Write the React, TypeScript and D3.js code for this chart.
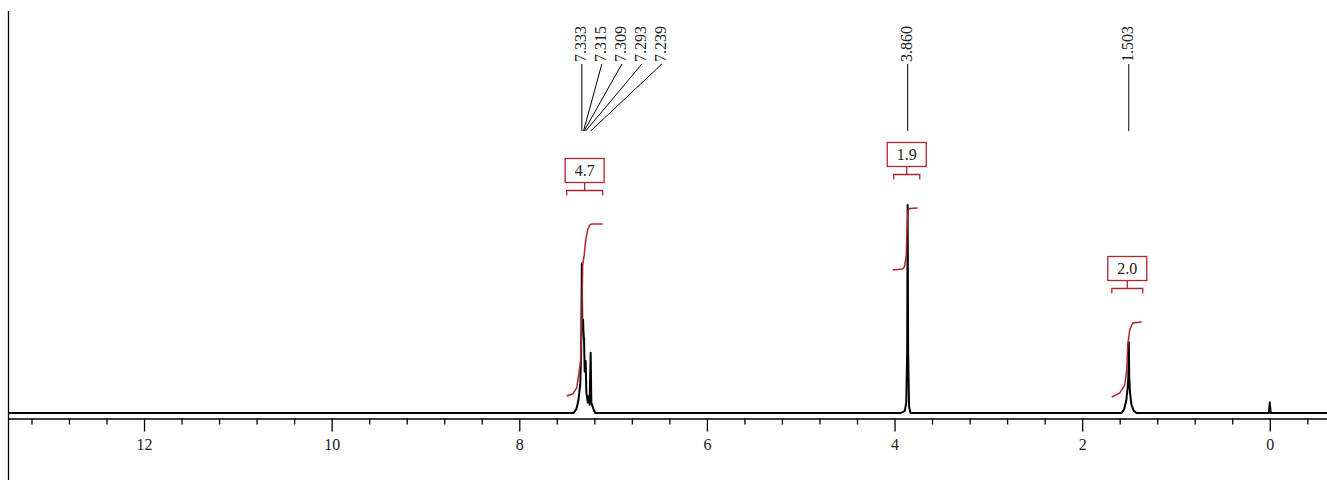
import React, { useEffect, useRef } from 'react';
import * as d3 from 'd3';

const width = 1327, height = 480;

// spectrum trace (ppm, intensity; 3.860 singlet = 100)
const specPpm = [13.45, 7.42, 7.39, 7.37, 7.35, 7.34, 7.333, 7.328, 7.32, 7.315, 7.309, 7.303, 7.293, 7.285, 7.27, 7.26, 7.25, 7.239, 7.232, 7.21, 7.19,
  3.93, 3.89, 3.875, 3.865, 3.86, 3.855, 3.845, 3.83,
  1.58, 1.55, 1.53, 1.515, 1.508, 1.503, 1.498, 1.49, 1.475, 1.45, 1.42,
  0.01, 0.0, -0.01, -0.61];
const specInt = [0, 0, 2, 6, 14, 30, 72, 40, 45, 38, 35, 20, 25, 10, 5, 8, 4, 29, 5, 2, 0,
  0, 1, 5, 30, 100, 30, 3, 0,
  0, 2, 6, 12, 17, 34, 17, 10, 4, 1, 0,
  0, 5, 0, 0];

// peak picking labels
const peakLabels = ['7.333', '7.315', '7.309', '7.293', '7.239', '3.860', '1.503'];
const peakPpm = [7.333, 7.315, 7.309, 7.293, 7.239, 3.860, 1.503];

// integrals
const integralLabels = ['4.7', '1.9', '2.0'];
const integralFrom = [7.495, 4.009, 1.684];
const integralTo = [7.111, 3.731, 1.354];
const int1Ppm = [7.495, 7.431, 7.388, 7.367, 7.345, 7.335, 7.324, 7.308, 7.292, 7.271, 7.249, 7.228, 7.111];
const int1Val = [8.2, 9.1, 12, 18.3, 25.5, 40, 71, 76, 83, 88, 90.4, 90.9, 90.9];
const int2Ppm = [4.019, 3.913, 3.891, 3.875, 3.865, 3.854, 3.838, 3.753];
const int2Val = [68.75, 69.2, 70.7, 76, 90.4, 97.6, 98.3, 98.6];
const int3Ppm = [1.684, 1.599, 1.546, 1.525, 1.514, 1.493, 1.461, 1.365];
const int3Val = [7.7, 9.6, 13.5, 20.7, 32.7, 39.9, 43.3, 43.75];

const majorTicks = [12, 10, 8, 6, 4, 2, 0];

const NmrSpectrum = () => {
  const svgRef = useRef<SVGSVGElement>(null);

  useEffect(() => {
    const svg = d3.select(svgRef.current);
    svg.selectAll('*').remove();

    const x = d3.scaleLinear().domain([13.45, -0.61]).range([8, 1327]);
    const y = d3.scaleLinear().domain([0, 100]).range([413, 205]);
    const red = '#b0262e';
    const font = '"Liberation Serif", "Times New Roman", serif';

    // left frame line
    svg.append('line').attr('x1', 8.5).attr('x2', 8.5).attr('y1', 11).attr('y2', height)
      .attr('stroke', '#000').attr('stroke-width', 1.3);

    // axis
    const minor = d3.range(-0.4, 13.3, 0.4).filter((v) => Math.abs(v / 2 - Math.round(v / 2)) > 0.01);
    const axisG = svg.append('g').attr('transform', 'translate(0,418.5)');
    axisG.call(d3.axisBottom(x).tickValues(minor).tickSize(6).tickSizeOuter(0).tickFormat(() => ''));
    const majG = svg.append('g').attr('transform', 'translate(0,418.5)');
    majG.call(d3.axisBottom(x).tickValues(majorTicks).tickSize(13).tickSizeOuter(0).tickFormat(d3.format('d')));
    svg.selectAll('.domain').attr('stroke', '#000').attr('stroke-width', 1.2);
    svg.selectAll('.tick line').attr('stroke', '#000').attr('stroke-width', 1.3);
    majG.selectAll('.tick text').attr('font-family', font).attr('font-size', 16)
      .attr('fill', '#222').attr('y', 20).attr('dy', '0.71em');

    // spectrum
    const pts: [number, number][] = specPpm.map((p, i) => [p, specInt[i]]);
    const line = d3.line<[number, number]>().x((d) => x(d[0])).y((d) => y(d[1]));
    svg.append('path').attr('d', line(pts)).attr('fill', 'none')
      .attr('stroke', '#000').attr('stroke-width', 2).attr('stroke-linejoin', 'round');

    // integral curves
    const curves = [
      int1Ppm.map((p, i) => [p, int1Val[i]] as [number, number]),
      int2Ppm.map((p, i) => [p, int2Val[i]] as [number, number]),
      int3Ppm.map((p, i) => [p, int3Val[i]] as [number, number]),
    ];
    curves.forEach((c, i) => {
      svg.append('path').attr('d', line(c)).attr('fill', 'none')
        .attr('stroke', red).attr('stroke-width', 1.5);

      const top = y(d3.max(c, (d) => d[1]) as number);
      const by = Math.round(top - 34) + 0.5;
      const x0 = x(integralFrom[i]), x1 = x(integralTo[i]);
      const cx = (x0 + x1) / 2;
      const g = svg.append('g');
      g.append('path')
        .attr('d', `M${x0},${by + 5}V${by}H${x1}V${by + 5}M${cx},${by}V${by - 8}`)
        .attr('fill', 'none').attr('stroke', red).attr('stroke-width', 1.3);
      g.append('rect').attr('x', cx - 19.5).attr('y', by - 32).attr('width', 39).attr('height', 24)
        .attr('fill', '#fff').attr('stroke', red).attr('stroke-width', 1.3);
      g.append('text').attr('x', cx).attr('y', by - 14.5).attr('text-anchor', 'middle')
        .attr('font-family', font).attr('font-size', 16).attr('fill', '#222')
        .text(integralLabels[i]);
    });

    // peak labels
    let prev = -Infinity;
    peakPpm.forEach((p, i) => {
      const px = x(p);
      const lx = Math.max(px, prev + 20);
      prev = lx;
      svg.append('path').attr('d', `M${lx},64L${px},131`).attr('fill', 'none')
        .attr('stroke', '#000').attr('stroke-width', 1);
      svg.append('text')
        .attr('transform', `translate(${lx},62) rotate(-90)`)
        .attr('text-anchor', 'start').attr('dy', '0.28em')
        .attr('font-family', font).attr('font-size', 16).attr('fill', '#222')
        .text(peakLabels[i]);
    });
  }, []);

  return (
    <svg ref={svgRef} width={width} height={height}
      style={{ position: 'absolute', left: 0, top: 0, background: '#fff' }} />
  );
};

export default function App() {
  return <NmrSpectrum />;
}
